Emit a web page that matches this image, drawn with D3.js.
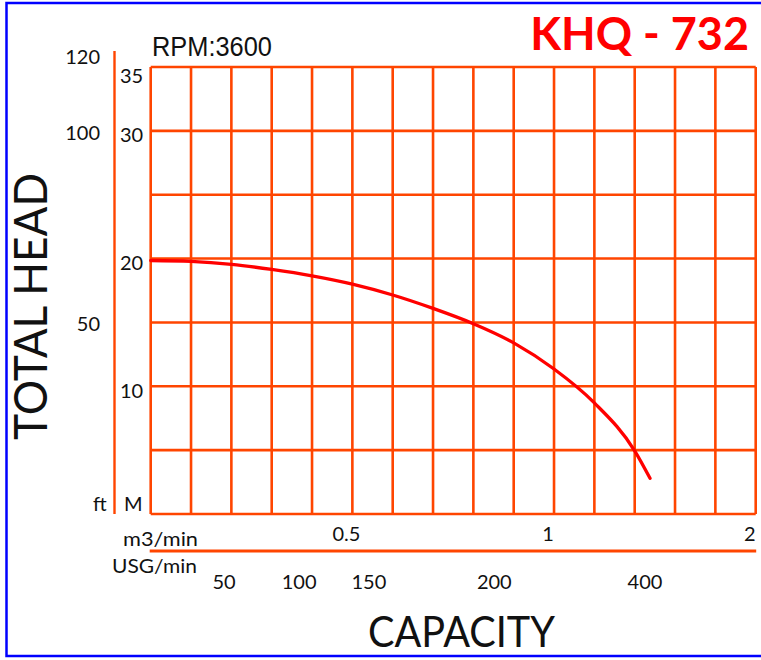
<!DOCTYPE html>
<html>
<head>
<meta charset="utf-8">
<script src="https://cdn.jsdelivr.net/npm/d3@7"></script>
<style>
  html, body { margin: 0; padding: 0; background: #fff; }
  svg { display: block; }
</style>
</head>
<body>
<svg id="chart" width="761" height="660"></svg>
<script>
// ---- data ----
const flowM3 = [0, 0.1, 0.2, 0.3, 0.4, 0.5, 0.6, 0.7, 0.8, 0.9, 1.0, 1.2, 1.4, 1.476];
const headM  = [19.85, 19.78, 19.55, 19.15, 18.65, 18.0, 17.15, 16.1, 14.9, 13.4, 11.35, 8.7, 4.95, 2.8];
const mTickLabels = [10, 20, 30, 35];
const ftTickLabels = [50, 100, 120];
const m3TickLabels = [0.5, 1, 2];
const usgTickLabels = [50, 100, 150, 200, 400];
// where each USG label sits on the (irregular) m3/min axis of the original
const usgAsM3 = [0.182, 0.368, 0.541, 0.852, 1.451];
const gridM3 = [0, 0.1, 0.2, 0.3, 0.4, 0.5, 0.6, 0.7, 0.8, 0.9, 1.0, 1.2, 1.4, 1.6, 1.8, 2.0];
const gridHead = [0, 5, 10, 15, 20, 25, 30, 35];

// ---- layout ----
const W = 761, H = 660;
const pL = 150.7, pR = 755.7, pT = 67, pB = 514;
const gridColor = "#FF4500";
const svg = d3.select("#chart");
svg.append("rect").attr("width", W).attr("height", H).attr("fill", "#fff");

// piecewise capacity axis: 0..1 over 10 columns, 1..2 over 5 columns
const colW = (pR - pL) / 15;
const x = d3.scaleLinear().domain([0, 1, 2]).range([pL, pL + 10 * colW, pR]);
const y = d3.scaleLinear().domain([0, 35]).range([pB, pT]);
const yFt = d3.scaleLinear().domain([0, 120]).range([pB, y(35.8)]);
const usgPos = d3.scaleOrdinal().domain(usgTickLabels).range(usgAsM3);

// blue frame (right side runs off the picture)
svg.append("rect")
  .attr("x", 6.5).attr("y", 3).attr("width", 780).attr("height", 653)
  .attr("fill", "none").attr("stroke", "#0000FF").attr("stroke-width", 2.5);

// grid
const g = svg.append("g");
g.selectAll("line.h").data(gridHead).join("line")
  .attr("x1", pL).attr("x2", pR)
  .attr("y1", d => y(d)).attr("y2", d => y(d))
  .attr("stroke", gridColor).attr("stroke-width", 2.6);
g.selectAll("line.v").data(gridM3).join("line")
  .attr("y1", pT).attr("y2", pB)
  .attr("x1", d => x(d)).attr("x2", d => x(d))
  .attr("stroke", gridColor).attr("stroke-width", 2.6);

// left ft/M separator line
svg.append("line")
  .attr("x1", 114.5).attr("x2", 114.5)
  .attr("y1", yFt(121.5)).attr("y2", pB)
  .attr("stroke", gridColor).attr("stroke-width", 2.4);

// bottom separator between m3/min and USG/min
svg.append("line")
  .attr("x1", pL - 1).attr("x2", pR + 0.5)
  .attr("y1", 551).attr("y2", 551)
  .attr("stroke", gridColor).attr("stroke-width", 3);

// curve
const pts = flowM3.map((f, i) => [x(f), y(headM[i])]);
svg.append("path")
  .attr("d", d3.line().curve(d3.curveMonotoneX)(pts))
  .attr("fill", "none").attr("stroke", "#FF0000")
  .attr("stroke-width", 3.3).attr("stroke-linecap", "round");

// text
const font = "Lato, 'Open Sans', sans-serif";
const txt = (sel) => sel.attr("font-family", font).attr("fill", "#111");

// M labels
svg.selectAll("text.m").data(mTickLabels).join("text")
  .call(txt).attr("font-size", 20)
  .attr("x", 120).attr("y", d => y(d) + (d === 35 ? 15.5 : 11.5))
  .text(d => d);

// ft labels
svg.selectAll("text.ft").data(ftTickLabels).join("text")
  .call(txt).attr("font-size", 20).attr("text-anchor", "end")
  .attr("x", 100).attr("y", d => yFt(d) + 7.5)
  .text(d => d);

svg.append("text").call(txt).attr("font-size", 20)
  .attr("x", 93).attr("y", 511).text("ft");
svg.append("text").call(txt).attr("font-size", 20)
  .attr("x", 124).attr("y", 511).text("M");

// capacity labels
svg.selectAll("text.m3").data(m3TickLabels).join("text")
  .call(txt).attr("font-size", 20).attr("text-anchor", "middle")
  .attr("x", d => x(d) - 6).attr("y", 541)
  .text(d => d);
svg.selectAll("text.usg").data(usgTickLabels).join("text")
  .call(txt).attr("font-size", 20).attr("text-anchor", "middle")
  .attr("x", d => x(usgPos(d))).attr("y", 589)
  .text(d => d);

svg.append("text").call(txt).attr("font-size", 20)
  .attr("x", 123).attr("y", 546)
  .attr("textLength", 75).attr("lengthAdjust", "spacingAndGlyphs")
  .text("m3/min");
svg.append("text").call(txt).attr("font-size", 20)
  .attr("x", 112).attr("y", 573)
  .attr("textLength", 85).attr("lengthAdjust", "spacingAndGlyphs")
  .text("USG/min");

// axis titles
svg.append("text").call(txt).attr("font-size", 46)
  .attr("text-anchor", "middle")
  .attr("transform", "translate(47,306.5) rotate(-90)")
  .attr("textLength", 267).attr("lengthAdjust", "spacingAndGlyphs")
  .text("TOTAL HEAD");
svg.append("text").call(txt).attr("font-size", 43)
  .attr("x", 368).attr("y", 647)
  .attr("textLength", 187).attr("lengthAdjust", "spacingAndGlyphs")
  .text("CAPACITY");

// RPM
svg.append("text")
  .attr("font-family", "'Liberation Sans', Arial, sans-serif")
  .attr("font-size", 27).attr("fill", "#111")
  .attr("x", 152).attr("y", 55.5)
  .attr("textLength", 120).attr("lengthAdjust", "spacingAndGlyphs")
  .text("RPM:3600");

// model title
svg.append("text")
  .attr("font-family", font).attr("font-weight", "bold")
  .attr("font-size", 45).attr("fill", "#FF0000")
  .attr("text-anchor", "end")
  .attr("x", 749).attr("y", 50)
  .text("KHQ - 732");
</script>
</body>
</html>
